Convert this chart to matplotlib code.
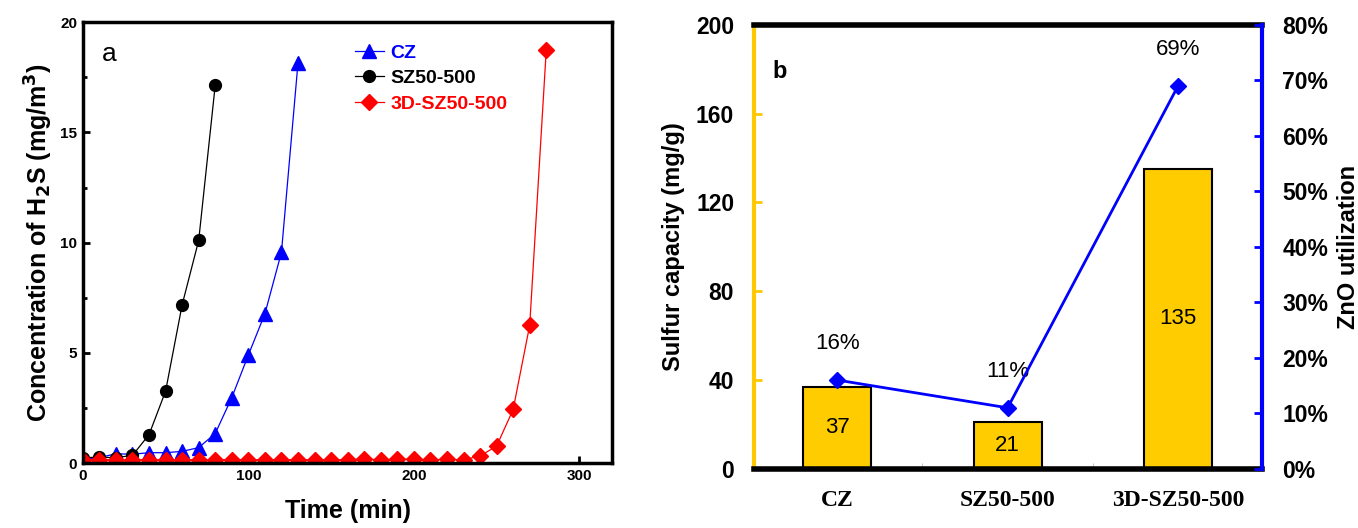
import numpy as np
import matplotlib
matplotlib.use('Agg')
import matplotlib.pyplot as plt
from matplotlib.ticker import MultipleLocator, FuncFormatter, FixedLocator

plt.rcParams['font.family'] = ['Liberation Sans', 'DejaVu Sans']

# breakthrough curves (min, mg/m3)
t_cz = [0, 10, 20, 30, 40, 50, 60, 70, 80, 90, 100, 110, 120, 130]
c_cz = [0.15, 0.25, 0.42, 0.4, 0.47, 0.47, 0.53, 0.7, 1.34, 2.97, 4.9, 6.77, 9.56, 18.15]
t_sz = [0, 10, 20, 30, 40, 50, 60, 70, 80]
c_sz = [0.24, 0.27, 0.24, 0.35, 1.29, 3.26, 7.18, 10.1, 17.15]
t_3d = [0, 10, 20, 30, 40, 50, 60, 70, 80, 90, 100, 110, 120, 130, 140, 150,
        160, 170, 180, 190, 200, 210, 220, 230, 240, 250, 260, 270, 280]
c_3d = [0.15, 0.15, 0.15, 0.15, 0.15, 0.15, 0.15, 0.15, 0.15, 0.15, 0.15, 0.15,
        0.15, 0.15, 0.15, 0.15, 0.15, 0.18, 0.15, 0.17, 0.17, 0.15, 0.17, 0.15,
        0.32, 0.77, 2.43, 6.25, 18.74]

# sulfur capacity and ZnO utilization
samples = ['CZ', 'SZ50-500', '3D-SZ50-500']
capacity = [37, 21, 135]
utilization = [16, 11, 69]

fig = plt.figure(figsize=(13.58, 5.28), dpi=100)

#----- panel a -----
ax = fig.add_axes([0.061, 0.123, 0.390, 0.835])
ax.plot(t_cz, c_cz, '-^', color='blue', lw=0.9, ms=10, label='CZ')
ax.plot(t_sz, c_sz, '-o', color='black', lw=0.9, ms=8.5, label='SZ50-500')
ax.plot(t_3d, c_3d, '-D', color='red', lw=0.9, ms=8, label='3D-SZ50-500')
ax.set_xlim(0, 320)
ax.set_ylim(0, 20)
ax.xaxis.set_major_locator(MultipleLocator(100))
ax.yaxis.set_major_locator(MultipleLocator(5))
ax.yaxis.set_minor_locator(MultipleLocator(2.5))
ax.tick_params(which='both', direction='in', top=False, right=False, width=2)
ax.tick_params(which='major', length=5, labelsize=11, pad=4)
ax.tick_params(which='minor', length=3)
for lab in ax.get_xticklabels() + ax.get_yticklabels():
  lab.set_fontweight('bold')
for s in ax.spines.values():
  s.set_linewidth(2.5)
ax.set_xlabel('Time (min)', fontsize=18, fontweight='bold', labelpad=12)
ax.set_ylabel('Concentration of H$_\\mathbf{2}$S (mg/m$^\\mathbf{3}$)',
              fontsize=18, fontweight='bold', labelpad=4)
ax.text(0.036, 0.955, 'a', transform=ax.transAxes, fontsize=19, va='top')
leg = ax.legend(loc='upper left', bbox_to_anchor=(0.513, 0.95), frameon=False,
                borderpad=0, borderaxespad=0, handlelength=1.5,
                handletextpad=0.35, labelspacing=0.4,
                prop={'weight': 'bold', 'size': 14})
for txt, col in zip(leg.get_texts(), ['blue', 'black', 'red']):
  txt.set_color(col)

#----- panel b -----
bx = fig.add_axes([0.555, 0.112, 0.374, 0.841])
x = np.arange(len(samples))
bx.bar(x, capacity, width=0.4, color='#FFCC00', edgecolor='black',
       linewidth=1.5, zorder=2)
for xi, v in zip(x, capacity):
  bx.text(xi, v / 2, str(v), ha='center', va='center', fontsize=16, zorder=3)
bx.set_xlim(-0.49, 2.49)
bx.set_ylim(0, 200)
bx.yaxis.set_major_locator(MultipleLocator(40))
bx.set_xticks(x)
bx.set_xticklabels(samples, family='Liberation Serif', fontweight='bold', fontsize=17)
bx.xaxis.set_minor_locator(FixedLocator([0.5, 1.5]))
bx.tick_params(axis='x', which='major', length=0, pad=15)
bx.tick_params(axis='x', which='minor', direction='in', length=4, color='#bbbbbb')
bx.tick_params(axis='y', direction='in', length=6, width=2, color='#FFC800',
               labelsize=16.5, pad=14)
for lab in bx.get_yticklabels():
  lab.set_fontweight('bold')
bx.spines['left'].set_color('#FFC800')
bx.spines['left'].set_linewidth(3)
bx.spines['top'].set_linewidth(4)
bx.spines['bottom'].set_linewidth(4)
bx.spines['right'].set_visible(False)
bx.set_ylabel('Sulfur capacity (mg/g)', fontsize=17, fontweight='bold', labelpad=8)
bx.text(0.036, 0.92, 'b', transform=bx.transAxes, fontsize=17, fontweight='bold', va='top')

tx = bx.twinx()
tx.plot(x, utilization, '-D', color='blue', lw=2, ms=8, zorder=4)
for xi, u in zip(x, utilization):
  tx.text(xi, u + 6.5, '%d%%' % u, ha='center', va='center', fontsize=16)
tx.set_ylim(0, 80)
tx.yaxis.set_major_locator(MultipleLocator(10))
tx.yaxis.set_major_formatter(FuncFormatter(lambda v, p: '%d%%' % v))
tx.tick_params(axis='y', direction='in', length=6, width=2, color='blue',
               labelsize=16.5, pad=15)
for lab in tx.get_yticklabels():
  lab.set_fontweight('bold')
for k in ['left', 'top', 'bottom']:
  tx.spines[k].set_visible(False)
tx.spines['right'].set_color('blue')
tx.spines['right'].set_linewidth(3)
tx.set_ylabel('ZnO utilization', fontsize=17, fontweight='bold', labelpad=6)

plt.savefig('out.png', dpi=100)
